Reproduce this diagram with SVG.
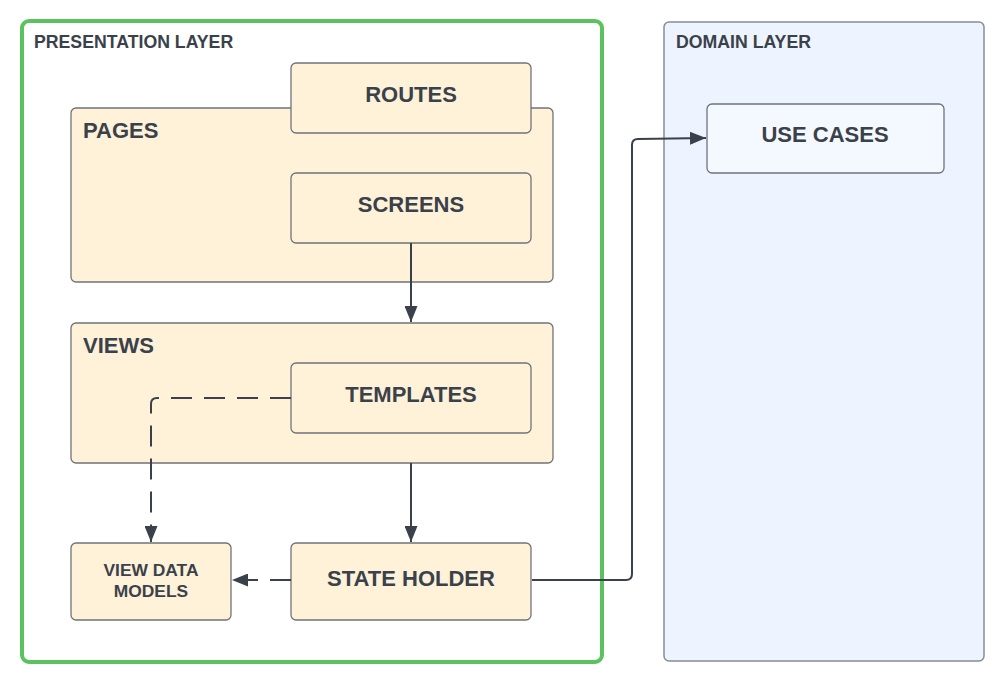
<svg xmlns="http://www.w3.org/2000/svg" width="1003" height="684" viewBox="0 0 1003 684">
  <style>
    .box { fill: #fff2d9; stroke: #6f737a; stroke-width: 1.3; }
    .blue { fill: #f4f8ff; stroke: #6f737a; stroke-width: 1.3; }
    .t { font-family: "Liberation Sans", Arial, sans-serif; font-weight: bold; fill: #3a414b; }
    .title { font-size: 17.7px; }
    .lbl { font-size: 22px; text-anchor: middle; }
    .small { font-size: 17.4px; text-anchor: middle; }
    .big { font-size: 22px; }
    .line { fill: none; stroke: #3a414b; stroke-width: 2; }
    .dash { stroke-dasharray: 21 12; }
  </style>
  <defs>
    <marker id="arrow" viewBox="0 0 16 13" refX="16" refY="6.5" markerWidth="16" markerHeight="13" markerUnits="userSpaceOnUse" orient="auto">
      <path d="M0,0 L16,6.5 L0,13 Z" fill="#3a414b"/>
    </marker>
  </defs>
  <rect width="1003" height="684" fill="#ffffff"/>

  <!-- layer containers -->
  <g id="presentation-layer">
    <rect x="22" y="21" width="580" height="641" rx="7" fill="#ffffff" stroke="#5ac35e" stroke-width="4"/>
    <text class="t title" x="34" y="48">PRESENTATION LAYER</text>
  </g>
  <g id="domain-layer">
    <rect x="664" y="22" width="320" height="639" rx="5" fill="#edf4ff" stroke="#878d96" stroke-width="1.5"/>
    <text class="t title" x="676" y="48">DOMAIN LAYER</text>
  </g>

  <g id="pages">
    <rect class="box" x="71" y="108" width="482" height="174" rx="5"/>
    <text class="t big" x="83" y="138">PAGES</text>
  </g>
  <g id="routes">
    <rect class="box" x="291" y="63" width="240" height="70" rx="5"/>
    <text class="t lbl" x="411" y="102">ROUTES</text>
  </g>
  <g id="screens">
    <rect class="box" x="291" y="173" width="240" height="70" rx="5"/>
    <text class="t lbl" x="411" y="212">SCREENS</text>
  </g>
  <g id="views">
    <rect class="box" x="71" y="323" width="482" height="140" rx="5"/>
    <text class="t big" x="83" y="353">VIEWS</text>
  </g>
  <g id="templates">
    <rect class="box" x="291" y="363" width="240" height="70" rx="5"/>
    <text class="t lbl" x="411" y="402">TEMPLATES</text>
  </g>
  <g id="view-data-models">
    <rect class="box" x="71" y="543" width="160" height="77" rx="5"/>
    <text class="t small" x="151" y="576">VIEW DATA</text>
    <text class="t small" x="151" y="597">MODELS</text>
  </g>
  <g id="state-holder">
    <rect class="box" x="291" y="543" width="240" height="77" rx="5"/>
    <text class="t lbl" x="411" y="586">STATE HOLDER</text>
  </g>
  <g id="use-cases">
    <rect class="blue" x="707" y="104" width="237" height="69" rx="5"/>
    <text class="t lbl" x="825" y="142">USE CASES</text>
  </g>

  <g id="connectors">
    <path class="line" d="M411,243 L411,322" marker-end="url(#arrow)"/>
    <path class="line" d="M411,463 L411,542" marker-end="url(#arrow)"/>
    <path class="line dash" d="M291,398 L157,398 Q151,398 151,404 L151,542" marker-end="url(#arrow)"/>
    <path class="line dash" d="M291,580 L232,580" marker-end="url(#arrow)"/>
    <path class="line" d="M532,580 L626,580 Q632,580 632,574 L632,145 Q632,139 638,139 L706,138" marker-end="url(#arrow)"/>
  </g>
</svg>
